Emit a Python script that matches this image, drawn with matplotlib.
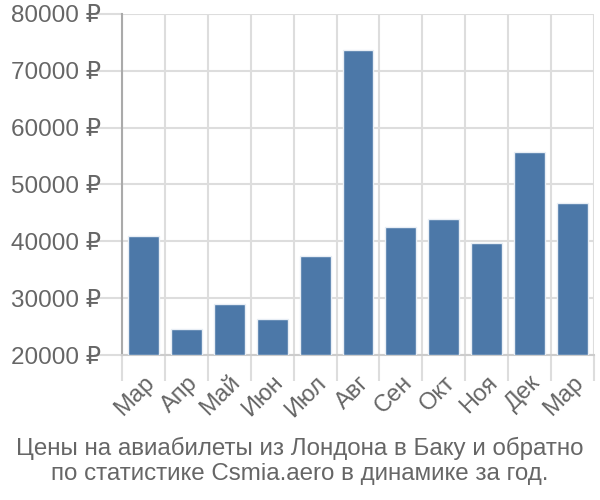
import numpy as np
import matplotlib.pyplot as plt

plt.rcParams['font.family'] = ['Liberation Sans', 'DejaVu Sans']

months = ["Мар", "Апр", "Май", "Июн", "Июл", "Авг", "Сен", "Окт", "Ноя", "Дек", "Мар"]
prices = [41000, 24500, 28900, 26400, 37400, 73700, 42500, 43900, 39700, 55700, 46700]
yticks = [20000, 30000, 40000, 50000, 60000, 70000, 80000]
title = "Цены на авиабилеты из Лондона в Баку и обратно\nпо статистике Csmia.aero в динамике за год."

fig = plt.figure(figsize=(6, 5), dpi=100)
ax = fig.add_axes([122/600, 1-355/500, (594-122)/600, (355-14)/500])

x = np.arange(len(months))
ax.bar(x, [p - 20000 for p in prices], bottom=20000, width=0.72,
       color="#4c78a8", edgecolor="#e8eef5", linewidth=1, zorder=3)

ax.set_xlim(-0.5, len(months) - 0.5)
ax.set_ylim(20000, 80000)

ax.set_yticks(yticks)
ax.set_yticklabels([f"{v} ₽" for v in yticks])
ax.set_xticks(x)
ax.set_xticklabels(months, rotation=45, ha="right", va="top", rotation_mode="anchor")
ax.set_xticks(np.arange(-0.5, len(months)), minor=True)

ax.tick_params(axis="y", length=20, color="#dddddd", width=1.5, labelsize=17.5,
               labelcolor="#666666", pad=-5)
ax.tick_params(axis="x", which="major", length=0, labelsize=17, labelcolor="#666666", pad=12)
ax.tick_params(axis="x", which="minor", length=19, color="#dddddd", width=1.5)

ax.grid(axis="y", color="#dddddd", linewidth=1.5, zorder=0)
ax.grid(axis="x", which="minor", color="#dddddd", linewidth=1.5, zorder=0)

for s in ["top", "right"]:
    ax.spines[s].set_visible(False)
ax.spines["bottom"].set_color("#cccccc")
ax.spines["bottom"].set_linewidth(1.5)
ax.spines["left"].set_color("#aaaaaa")
ax.spines["left"].set_linewidth(1.5)
ax.spines["left"].set_bounds(20000, 80000)

fig.text(0.5, 0.03, title, ha="center", va="bottom", fontsize=17.4,
         color="#666666", linespacing=1.2)

fig.savefig("out.png")
